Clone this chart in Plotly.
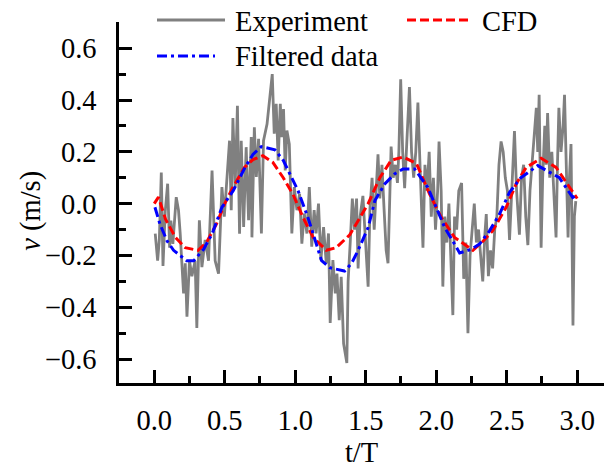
import plotly.graph_objects as go

# ---- data ----
exp_t = [0.007, 0.024, 0.036, 0.05, 0.062, 0.078, 0.095, 0.109, 0.118, 0.132, 0.156, 0.172, 0.184, 0.196, 0.208,
         0.22, 0.232, 0.25, 0.267, 0.29, 0.302, 0.32, 0.338, 0.361, 0.385, 0.41, 0.432, 0.456, 0.48, 0.497,
         0.52, 0.534, 0.546, 0.558, 0.574, 0.59, 0.605, 0.617, 0.634, 0.652, 0.669, 0.688, 0.693, 0.71, 0.724,
         0.74, 0.76, 0.775, 0.8, 0.818, 0.837, 0.851, 0.865, 0.879, 0.894, 0.905, 0.917, 0.929, 0.941, 0.958,
         0.976, 0.993, 1.012, 1.031, 1.047, 1.064, 1.083, 1.1, 1.117, 1.134, 1.148, 1.165, 1.182, 1.201, 1.22,
         1.236, 1.248, 1.267, 1.284, 1.296, 1.312, 1.326, 1.343, 1.366,
         1.375, 1.39, 1.405, 1.42,
         1.435, 1.446, 1.46, 1.48, 1.50, 1.517, 1.53, 1.545, 1.56, 1.575, 1.587, 1.60, 1.615, 1.63, 1.645,
         1.658, 1.67, 1.68, 1.695, 1.71, 1.725, 1.735, 1.748, 1.762, 1.776, 1.79, 1.81, 1.825, 1.84, 1.855,
         1.87, 1.885, 1.895, 1.906, 1.92, 1.935, 1.95, 1.965, 1.98, 1.995, 2.01, 2.02, 2.035, 2.047, 2.06,
         2.075, 2.09, 2.105, 2.118, 2.13, 2.145, 2.16, 2.18, 2.195, 2.21, 2.225, 2.24, 2.255, 2.27, 2.285,
         2.30, 2.315, 2.33, 2.345, 2.355, 2.37, 2.385, 2.40, 2.415, 2.43, 2.445, 2.46, 2.475, 2.49, 2.505,
         2.52, 2.535, 2.555, 2.57, 2.59, 2.605, 2.62, 2.635, 2.65, 2.665, 2.68, 2.695, 2.71, 2.72, 2.73,
         2.744, 2.755, 2.77, 2.78, 2.79, 2.805, 2.82, 2.835, 2.85, 2.86, 2.87, 2.885, 2.90, 2.91, 2.925,
         2.935, 2.945, 2.956, 2.97, 2.98, 2.99]
exp_v = [-0.116, -0.22, -0.14, 0.12, -0.24, -0.03, 0.077, -0.17, -0.065, -0.155, 0.025, -0.025, -0.115, -0.245, -0.346,
         -0.23, -0.436, -0.22, -0.28, -0.22, -0.48, -0.064, -0.245, -0.14, -0.22, 0.128, -0.22, -0.27, 0.064, -0.05,
         0.14, 0.243, -0.025, 0.33, 0.064, 0.378, -0.116, 0.243, -0.09, 0.218, -0.064, 0.257, -0.13, 0.295, 0.103,
         0.25, -0.115, 0.243, 0.307, 0.41, 0.50, 0.27, 0.385, 0.167, 0.385, 0.257, 0.365, 0.128, 0.282, 0.23,
         -0.115, 0.064, -0.025, 0.038, -0.154, -0.038, -0.115, 0.064, -0.166, -0.025, -0.115, 0.0, -0.218, -0.09, -0.23,
         -0.115, -0.46, -0.218, -0.346, -0.27, -0.45, -0.282, -0.54, -0.615,
         -0.30, -0.15, 0.02, -0.10,
         0.02, -0.25, -0.05, 0.03, -0.15, -0.32, -0.02, 0.10, -0.10, 0.08, 0.19, 0.02, 0.15, -0.02, -0.18,
         -0.23, 0.05, 0.22, 0.10, 0.15, 0.08, 0.20, 0.48, 0.20, 0.06, 0.25, 0.45, 0.20, 0.10, 0.20,
         0.39, 0.15, 0.00, -0.17, 0.15, 0.05, 0.20, -0.05, 0.10, -0.10, 0.05, 0.24, 0.05, -0.32, -0.05,
         -0.15, 0.00, -0.20, -0.43, -0.05, -0.10, 0.05, 0.08, -0.29, -0.15, -0.50, -0.20, -0.10, 0.00, -0.15,
         -0.10, -0.20, -0.30, -0.12, -0.04, -0.28, -0.18, -0.25, -0.10, -0.05, 0.15, 0.24, 0.20, 0.10, 0.05,
         -0.14, 0.05, 0.28, 0.05, -0.12, 0.10, 0.15, -0.05, -0.16, 0.05, 0.15, 0.25, 0.37, 0.20, 0.42,
         -0.17, 0.10, 0.30, 0.15, 0.35, 0.10, 0.20, 0.00, -0.13, 0.15, 0.37, 0.20, 0.30, 0.42, 0.05,
         -0.13, 0.10, 0.23, -0.47, -0.05, 0.01]

cfd_t = [0.0, 0.03, 0.08, 0.15, 0.22, 0.31, 0.37, 0.44, 0.50, 0.56, 0.64, 0.70, 0.77, 0.84, 0.915, 0.985,
         1.057, 1.127, 1.22, 1.29, 1.387, 1.45, 1.517, 1.60, 1.68, 1.765, 1.86, 1.953, 2.036, 2.13, 2.26,
         2.33, 2.40, 2.496, 2.567, 2.638, 2.744, 2.85, 2.98, 3.0]
cfd_v = [0.0, 0.025, -0.06, -0.13, -0.17, -0.18, -0.15, -0.08, 0.0, 0.065, 0.14, 0.17, 0.185, 0.16, 0.10, 0.035,
         -0.055, -0.13, -0.18, -0.17, -0.12, -0.06, 0.0, 0.10, 0.167, 0.18, 0.155, 0.037, -0.053, -0.13, -0.18,
         -0.146, -0.105, -0.014, 0.076, 0.14, 0.175, 0.14, 0.037, 0.02]

filt_t = [0.005, 0.04, 0.09, 0.137, 0.23, 0.28, 0.35, 0.41, 0.48, 0.56, 0.644, 0.70, 0.76, 0.856, 0.915,
          1.02, 1.09, 1.15, 1.187, 1.245, 1.35, 1.40, 1.446, 1.517, 1.565, 1.635, 1.705, 1.765, 1.847, 1.94,
          1.99, 2.06, 2.13, 2.166, 2.25, 2.307, 2.378, 2.449, 2.52, 2.60, 2.72, 2.873, 2.968, 2.99]
filt_v = [-0.014, -0.078, -0.143, -0.18, -0.22, -0.22, -0.176, -0.117, -0.014, 0.05, 0.14, 0.19, 0.22, 0.208, 0.167,
          0.05, -0.053, -0.156, -0.22, -0.247, -0.26, -0.23, -0.18, -0.092, 0.012, 0.076, 0.115, 0.134, 0.134, 0.063,
          0.0, -0.092, -0.156, -0.19, -0.176, -0.156, -0.105, -0.04, 0.044, 0.10, 0.147, 0.10, 0.024, 0.03]

x_ticks = [0.0, 0.5, 1.0, 1.5, 2.0, 2.5, 3.0]
y_ticks = [-0.6, -0.4, -0.2, 0.0, 0.2, 0.4, 0.6]

names = ["Experiment", "CFD", "Filtered data"]
colors = ["#808080", "#ff0000", "#0000ff"]

FONT = "Times New Roman"
FS = 28.5

fig = go.Figure()
fig.add_trace(go.Scatter(x=exp_t, y=exp_v, mode="lines", name=names[0],
                         line=dict(color=colors[0], width=2.8)))
fig.add_trace(go.Scatter(x=cfd_t, y=cfd_v, mode="lines", name=names[1],
                         line=dict(color=colors[1], width=3, dash="9px,4px")))
fig.add_trace(go.Scatter(x=filt_t, y=filt_v, mode="lines", name=names[2],
                         line=dict(color=colors[2], width=3, dash="10px,4px,3px,4px")))

# manual legend (paper coordinates)
W, H = 604, 468
ml, mr, mt, mb = 119, 0, 22, 84.5
pw, ph = W - ml - mr, H - mt - mb

def px(x):
    return (x - ml) / pw

def py(y):
    return (H - mb - y) / ph

legend_items = [
    (157, 225, 20, 233, 21, names[0], colors[0], "solid", 2.8),
    (407, 472, 20, 480, 21, names[1], colors[1], "9px,4px", 3),
    (157, 215, 56, 233, 57, names[2], colors[2], "10px,4px,3px,4px", 3),
]
for x0, x1, yl, xt, yt, txt, col, dash, w in legend_items:
    fig.add_shape(type="line", xref="paper", yref="paper", x0=px(x0), x1=px(x1),
                  y0=py(yl), y1=py(yl), line=dict(color=col, width=w, dash=dash))
    fig.add_annotation(xref="paper", yref="paper", x=px(xt), y=py(yt), text=txt,
                       showarrow=False, xanchor="left", yanchor="middle",
                       font=dict(family=FONT, size=FS, color="black"))

# y-axis title placed to match the reference
fig.add_annotation(xref="paper", yref="paper", x=px(31), y=py(211), text="<i>v</i> (m/s)",
                   textangle=-90, showarrow=False, xanchor="center", yanchor="middle",
                   font=dict(family=FONT, size=FS, color="black"))

fig.update_layout(
    width=W, height=H,
    margin=dict(l=ml, r=mr, t=mt, b=mb),
    plot_bgcolor="white", paper_bgcolor="white",
    showlegend=False,
    font=dict(family=FONT, size=FS, color="black"),
)
fig.update_xaxes(
    range=[-0.25, 3.19], tickvals=x_ticks, ticktext=[f"{v:.1f}" for v in x_ticks],
    ticks="inside", ticklen=13, tickwidth=2.5, tickcolor="black",
    minor=dict(dtick=0.25, tick0=0.25, ticks="inside", ticklen=7, tickwidth=2.5, tickcolor="black"),
    showline=True, linecolor="black", linewidth=2.5, showgrid=False, zeroline=False,
    ticklabelstandoff=10,
    title=dict(text="t/T", font=dict(family=FONT, size=FS), standoff=8),
)
fig.update_yaxes(
    range=[-0.692, 0.701], tickvals=y_ticks, ticktext=[("\u2212" if v < 0 else "") + f"{abs(v):.1f}" for v in y_ticks],
    ticks="inside", ticklen=13, tickwidth=2.5, tickcolor="black",
    minor=dict(dtick=0.1, tick0=0.1, ticks="inside", ticklen=7, tickwidth=2.5, tickcolor="black"),
    showline=True, linecolor="black", linewidth=2.5, showgrid=False, zeroline=False,
    ticklabelstandoff=14,
)

fig.write_html("out.html")
